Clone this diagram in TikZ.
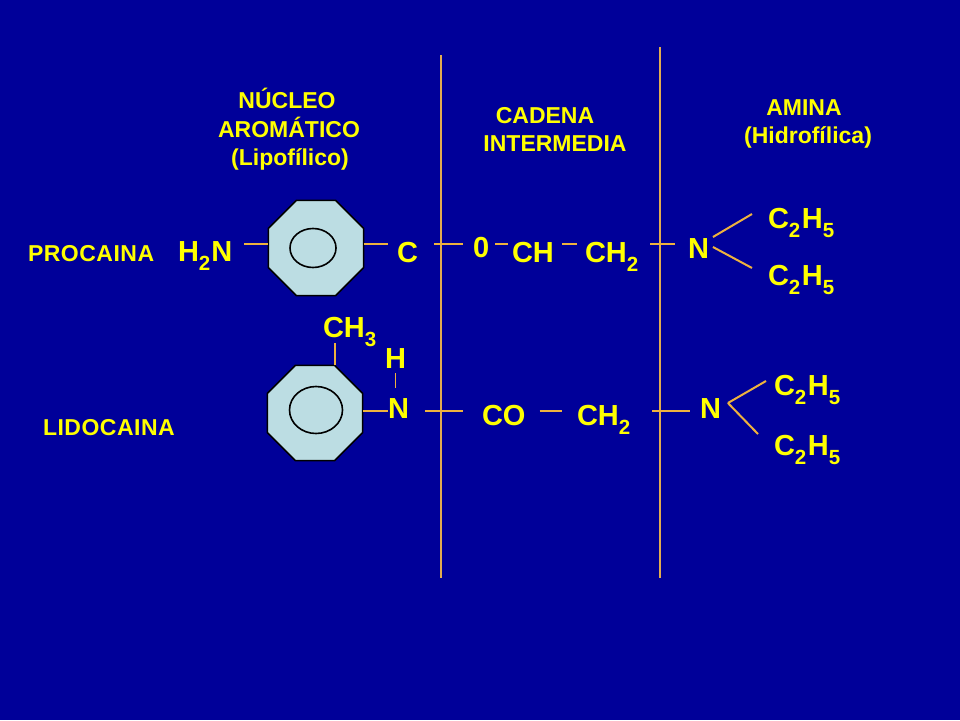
\documentclass[tikz,border=0pt]{standalone}
\usepackage{fontspec}
\setmainfont{Liberation Sans}
\usetikzlibrary{shapes.geometric,calc}
\definecolor{bg}{RGB}{0,0,153}
\definecolor{ylw}{RGB}{255,255,0}
\definecolor{bondc}{RGB}{238,178,62}
\definecolor{vlinec}{RGB}{225,172,80}
\definecolor{ringc}{RGB}{188,221,227}
\newcommand\chemfont{\fontsize{29}{29}\selectfont\bfseries}
\newcommand\headfont{\fontsize{23}{23}\selectfont\bfseries}
\newcommand\subs[1]{\raisebox{-9pt}{\fontsize{20.5}{20.5}\selectfont #1}}
\newcommand\ytxt[4][]{\node[yt,#1] (#2) at (#3) {#4};}
\begin{document}
\begin{tikzpicture}[x=1pt,y=-1pt,
  yt/.style={text=ylw,inner sep=0,outer sep=0,anchor=base west,font=\chemfont},
  head/.style={font=\headfont,anchor=base},
  lbl/.style={font=\headfont},
  bond/.style={draw=bondc,line width=2pt},
  vline/.style={draw=vlinec,line width=1.8pt},
  ring/.style={regular polygon,regular polygon sides=8,minimum size=103pt,inner sep=0,outer sep=0,draw=black,line width=1.6pt,fill=ringc},
  inring/.style={ellipse,draw=black,line width=1.6pt,inner sep=0}]
\fill[bg] (0,0) rectangle (960,720);
% column separators
\draw[vline] (441,55) -- (441,578);
\draw[vline] (660,47) -- (660,578);
% headers
\ytxt[head]{hnuc}{287,108}{NÚCLEO}
\ytxt[head]{haro}{289,137}{AROMÁTICO}
\ytxt[head]{hlip}{290,165}{(Lipofílico)}
\ytxt[head]{hcad}{545,123}{CADENA}
\ytxt[head]{hint}{555,151}{INTERMEDIA}
\ytxt[head]{hami}{804,115}{AMINA}
\ytxt[head]{hhid}{808,143}{(Hidrofílica)}
% row labels
\ytxt[lbl]{proc}{28,261}{P\kern.5pt R\kern.5pt O\kern.5pt C\kern.5pt A\kern.5pt I\kern.5pt N\kern.5pt A}
\ytxt[lbl]{lido}{43,435}{L\kern.5pt I\kern.5pt D\kern.5pt O\kern.5pt C\kern.5pt A\kern.5pt I\kern.5pt N\kern.5pt A}
% bond rows
\coordinate (r1) at (0,244);
\coordinate (r2) at (0,411);
% procaina
\ytxt{h2n}{178,261}{H\subs{2}\kern1pt N}
\node[ring] (oct1) at (316,248) {};
\node[inring,minimum width=46pt,minimum height=39pt] (ell1) at (313,248) {};
\ytxt{c1}{397,262}{C}
\ytxt{o1}{473,257}{0}
\ytxt{ch1}{512,262}{CH}
\ytxt{ch2a}{585,262}{CH\subs{2}}
\ytxt{n1}{688,258}{N}
\ytxt{c2a}{768,228}{C\subs{2}\kern1.5pt H\subs{5}}
\ytxt{c2b}{768,285}{C\subs{2}\kern1.5pt H\subs{5}}
\draw[bond,shorten <=12pt] (h2n.east |- r1) -- (oct1.west |- r1);
\draw[bond,shorten >=9pt] (oct1.east |- r1) -- (c1.west |- r1);
\draw[bond,shorten <=16pt,shorten >=10pt] (c1.east |- r1) -- (o1.west |- r1);
\draw[bond,shorten <=6pt,shorten >=4pt] (o1.east |- r1) -- (ch1.west |- r1);
\draw[bond,shorten <=8pt,shorten >=8pt] (ch1.east |- r1) -- (ch2a.west |- r1);
\draw[bond,shorten <=12pt,shorten >=13pt] (ch2a.east |- r1) -- (n1.west |- r1);
\draw[bond] ($(n1.base east)+(4,-21)$) -- ([xshift=-16pt,yshift=14pt]c2a.base west);
\draw[bond] ([xshift=4pt,yshift=11pt]n1.base east) -- ([xshift=-16pt,yshift=17pt]c2b.base west);
% lidocaina
\node[ring] (oct2) at (315,413) {};
\node[inring,minimum width=53pt,minimum height=47pt] (ell2) at (316,410) {};
\ytxt{ch3}{323,337}{CH\subs{3}}
\ytxt{h2}{385,368}{H}
\ytxt{n2}{388,418}{N}
\ytxt{co}{482,425}{CO}
\ytxt{ch2b}{577,425}{CH\subs{2}}
\ytxt{n3}{700,418}{N}
\ytxt{c2c}{774,395}{C\subs{2}\kern1.5pt H\subs{5}}
\ytxt{c2d}{774,455}{C\subs{2}\kern1.5pt H\subs{5}}
\draw[bond] ([xshift=20pt]oct2.north) -- ($(oct2.north |- ch3.base)+(20,6)$);
\draw[bond,line width=1.4pt] ($(h2.base)+(0,5)$) -- ($(h2.base |- n2.base)+(0,-30)$);
\draw[bond] (oct2.east |- r2) -- (n2.west |- r2);
\draw[bond,shorten <=16pt,shorten >=19pt] (n2.east |- r2) -- (co.west |- r2);
\draw[bond,shorten <=14pt,shorten >=15pt] (co.east |- r2) -- (ch2b.west |- r2);
\draw[bond,shorten <=22pt,shorten >=10pt] (ch2b.east |- r2) -- (n3.west |- r2);
\draw[bond] ([xshift=7pt,yshift=15pt]n3.base east) -- ([xshift=-8pt,yshift=14pt]c2c.base west);
\draw[bond] ([xshift=7pt,yshift=15pt]n3.base east) -- ([xshift=-16pt,yshift=21pt]c2d.base west);
\end{tikzpicture}
\end{document}
